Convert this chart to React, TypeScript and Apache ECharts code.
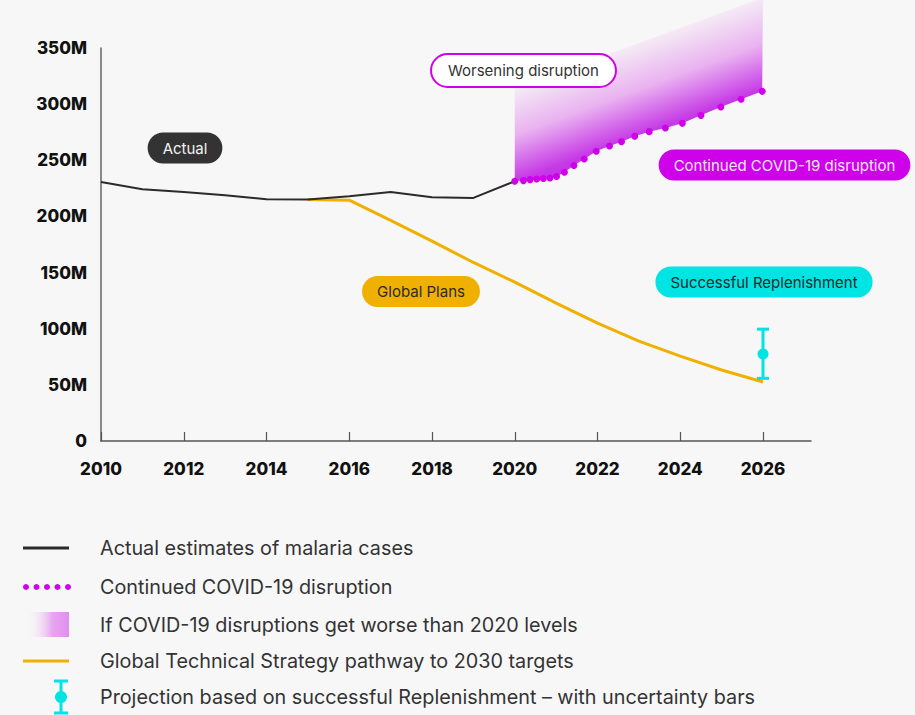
import React, { useEffect, useRef } from "react";
import * as echarts from "echarts";

// ---- data (values in millions of cases) ----
const actualYears = [2010, 2011, 2012, 2013, 2014, 2015, 2016, 2017, 2018, 2019, 2020];
const actualCases = [230.7, 224.2, 221.8, 218.9, 215.3, 215, 218, 221.8, 217, 216.5, 231.3];

const planYears = [2015, 2016, 2017, 2018, 2019, 2020, 2021, 2022, 2023, 2024, 2025, 2026];
const planCases = [215, 214.5, 196.5, 178, 159, 141.5, 122.8, 105, 89, 75.6, 63.2, 52.5];

const covidX = [2020.0, 2020.21, 2020.37, 2020.53, 2020.69, 2020.85, 2021.01, 2021.2, 2021.43, 2021.68, 2021.97, 2022.29, 2022.58, 2022.9, 2023.25, 2023.64, 2024.05, 2024.5, 2024.98, 2025.47, 2025.98];
const covidCases = [231.3, 231.9, 232.8, 233.4, 233.7, 234.3, 235.5, 239.3, 245.3, 251.2, 258.0, 262.7, 266.6, 271.4, 275.5, 278.7, 282.9, 290.0, 297.4, 304.3, 311.4];

const worseYears = [2020, 2026];
const worseUpper = [314, 395];

const replenYear = [2026];
const replenMid = [77.4];
const replenLow = [55.8];
const replenHigh = [99.6];

const xTicks = [2010, 2012, 2014, 2016, 2018, 2020, 2022, 2024, 2026];
const yTicks = [0, 50, 100, 150, 200, 250, 300, 350];

const legendLabels = [
  "Actual estimates of malaria cases",
  "Continued COVID-19 disruption",
  "If COVID-19 disruptions get worse than 2020 levels",
  "Global Technical Strategy pathway to 2030 targets",
  "Projection based on successful Replenishment \u2013 with uncertainty bars",
];

const BLACK = "#2b2b2b";
const MAGENTA = "#cf00ea";
const ORANGE = "#f0b000";
const CYAN = "#00e4e4";
const FONT = "Inter, 'Noto Sans', sans-serif";

export default function App() {
  const ref = useRef<HTMLDivElement>(null);
  useEffect(() => {
    if (!ref.current) return;
    const chart = echarts.init(ref.current, undefined, { renderer: "svg" });

    const pill = (text: string, x: number, y: number, bg: string, color: string, border?: string) => ({
      type: "text",
      x,
      y,
      z: 100,
      style: {
        text,
        align: "center",
        verticalAlign: "middle",
        fontFamily: FONT,
        fontSize: 15,
        lineHeight: 17,
        fill: color,
        backgroundColor: bg,
        borderColor: border || bg,
        borderWidth: border ? 2 : 0,
        borderRadius: 16,
        padding: border ? [7, 16, 7, 16] : [7, 15, 7, 15],
      },
    });

    const legendY = [548, 587, 625, 661, 697];
    const legendGraphics: any[] = [];
    legendLabels.forEach((t, i) => {
      legendGraphics.push({
        type: "text",
        x: 100,
        y: legendY[i],
        style: { text: t, fontFamily: FONT, fontSize: 19.8, fill: "#333", verticalAlign: "middle" },
      });
    });
    legendGraphics.push({ type: "line", shape: { x1: 23, y1: legendY[0], x2: 69, y2: legendY[0] }, style: { stroke: BLACK, lineWidth: 3 } });
    [26, 36.5, 47, 57.5, 68].forEach((cx) =>
      legendGraphics.push({ type: "circle", shape: { cx, cy: legendY[1], r: 3 }, style: { fill: MAGENTA } })
    );
    legendGraphics.push({
      type: "rect",
      shape: { x: 27, y: 612, width: 42, height: 25 },
      style: {
        fill: new echarts.graphic.LinearGradient(0, 0, 1, 0, [
          { offset: 0, color: "rgba(247,247,247,0)" },
          { offset: 0.6, color: "#e7a6f0" },
          { offset: 1, color: "#df8fee" },
        ]),
      },
    });
    legendGraphics.push({ type: "line", shape: { x1: 23, y1: legendY[3], x2: 69, y2: legendY[3] }, style: { stroke: ORANGE, lineWidth: 3 } });
    legendGraphics.push({ type: "line", shape: { x1: 61, y1: 681, x2: 61, y2: 713 }, style: { stroke: CYAN, lineWidth: 3 } });
    legendGraphics.push({ type: "line", shape: { x1: 54, y1: 681, x2: 68, y2: 681 }, style: { stroke: CYAN, lineWidth: 3 } });
    legendGraphics.push({ type: "line", shape: { x1: 54, y1: 713, x2: 68, y2: 713 }, style: { stroke: CYAN, lineWidth: 3 } });
    legendGraphics.push({ type: "circle", shape: { cx: 61, cy: 697, r: 6 }, style: { fill: CYAN } });

    const option: any = {
      animation: false,
      backgroundColor: "#f7f7f7",
      grid: { left: 101, top: 48, right: 104, bottom: 274 },
      xAxis: {
        type: "value",
        min: 2010,
        max: 2027.16,
        interval: 2,
        axisLine: { show: true, lineStyle: { color: "#555", width: 1.5 } },
        axisTick: { show: true, inside: true, length: 9, lineStyle: { color: "#555", width: 1.2 }, customValues: xTicks },
        axisLabel: {
          customValues: xTicks,
          margin: 19,
          color: "#111",
          fontFamily: FONT,
          fontWeight: 800,
          fontSize: 17,
          formatter: (v: number) => String(v),
        },
        splitLine: { show: false },
      },
      yAxis: {
        type: "value",
        min: 0,
        max: 350,
        interval: 50,
        axisLine: { show: true, lineStyle: { color: "#666", width: 1.5 } },
        axisTick: { show: false },
        splitLine: { show: false },
        axisLabel: {
          customValues: yTicks,
          margin: 14,
          color: "#111",
          fontFamily: FONT,
          fontWeight: 800,
          fontSize: 17,
          formatter: (v: number) => (v === 0 ? "0" : v + "M"),
        },
      },
      graphic: [
        pill("Actual", 185, 148, "#333333", "#f2f2f2"),
        pill("Worsening disruption", 523.5, 70.5, "#ffffff", "#333333", MAGENTA),
        pill("Continued COVID-19 disruption", 784.5, 165, MAGENTA, "#f6e6fa"),
        pill("Global Plans", 421, 291.5, ORANGE, "#2a2a2a"),
        pill("Successful Replenishment", 764, 282, CYAN, "#1f2a2a"),
        ...legendGraphics,
      ],
      series: [
        {
          type: "custom",
          name: "worse",
          clip: false,
          z: 1,
          data: [[worseYears[0], worseUpper[0]]],
          renderItem: (params: any, api: any) => {
            const pts: number[][] = [];
            covidX.forEach((x, i) => pts.push(api.coord([x, covidCases[i]])));
            for (let i = worseYears.length - 1; i >= 0; i--) pts.push(api.coord([worseYears[i], worseUpper[i]]));
            return {
              type: "polygon",
              shape: { points: pts },
              style: {
                fill: new echarts.graphic.LinearGradient(0, 0, 0.5, 1, [
                  { offset: 0, color: "rgba(247,247,247,0)" },
                  { offset: 0.38, color: "#f6f0f6" },
                  { offset: 0.6, color: "#e9b2f0" },
                  { offset: 0.8, color: "#c63ae6" },
                  { offset: 1, color: "#b820e0" },
                ]),
              },
            };
          },
        },
        {
          type: "line",
          name: "plans",
          z: 3,
          data: planYears.map((y, i) => [y, planCases[i]]),
          showSymbol: false,
          lineStyle: { color: ORANGE, width: 3 },
        },
        {
          type: "line",
          name: "actual",
          z: 4,
          data: actualYears.map((y, i) => [y, actualCases[i]]),
          showSymbol: false,
          lineStyle: { color: BLACK, width: 2 },
        },
        {
          type: "line",
          name: "covid",
          z: 5,
          data: covidX.map((x, i) => [x, covidCases[i]]),
          symbol: "circle",
          symbolSize: 7,
          showSymbol: true,
          itemStyle: { color: MAGENTA },
          lineStyle: { opacity: 0 },
        },
        {
          type: "custom",
          name: "replenishment",
          z: 6,
          clip: false,
          data: replenYear.map((y, i) => [y, replenLow[i], replenHigh[i], replenMid[i]]),
          renderItem: (params: any, api: any) => {
            const x = api.value(0);
            const lo = api.coord([x, api.value(1)]);
            const hi = api.coord([x, api.value(2)]);
            const mid = api.coord([x, api.value(3)]);
            const cap = 6;
            const st = { stroke: CYAN, lineWidth: 3 };
            return {
              type: "group",
              children: [
                { type: "line", shape: { x1: lo[0], y1: lo[1], x2: hi[0], y2: hi[1] }, style: st },
                { type: "line", shape: { x1: hi[0] - cap, y1: hi[1], x2: hi[0] + cap, y2: hi[1] }, style: st },
                { type: "line", shape: { x1: lo[0] - cap, y1: lo[1], x2: lo[0] + cap, y2: lo[1] }, style: st },
                { type: "circle", shape: { cx: mid[0], cy: mid[1], r: 5.5 }, style: { fill: CYAN } },
              ],
            };
          },
        },
      ],
    };
    chart.setOption(option);
    return () => chart.dispose();
  }, []);

  return (
    <div
      ref={ref}
      style={{ position: "fixed", left: 0, top: 0, width: 915, height: 715 }}
    />
  );
}
